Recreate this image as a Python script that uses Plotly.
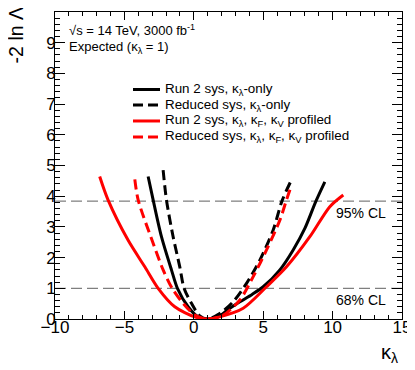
import plotly.graph_objects as go

# Run 2 sys, kappa_lambda-only (black solid)
run2_only_x = [-3.29, -2.93, -2.33, -1.61, -1.18, -0.41, 0.31, 1.0, 1.75, 2.5, 3.32, 4.2, 5.0, 6.2, 7.16, 8.0, 8.8, 9.44]
run2_only_y = [4.64, 3.88, 2.68, 1.6, 1.0, 0.40, 0.07, 0.0, 0.07, 0.32, 0.56, 0.8, 1.05, 1.6, 2.25, 2.95, 3.84, 4.47]

# Reduced sys, kappa_lambda-only (black dashed)
red_only_x = [-2.21, -1.97, -1.49, -1.01, -0.70, -0.17, 0.43, 1.0, 1.87, 2.83, 3.8, 4.76, 5.72, 6.35, 6.97]
red_only_y = [4.85, 3.88, 2.68, 1.70, 1.0, 0.51, 0.10, 0.0, 0.18, 0.56, 1.16, 1.92, 2.9, 3.84, 4.47]

# Run 2 sys, profiled (red solid)
run2_prof_x = [-6.78, -6.18, -4.74, -3.53, -2.57, -1.37, 0.07, 1.03, 1.87, 3.56, 5.24, 6.68, 8.36, 9.8, 10.77]
run2_prof_y = [4.64, 3.88, 2.57, 1.70, 1.0, 0.40, 0.07, 0.0, 0.07, 0.35, 1.05, 1.7, 2.68, 3.66, 4.04]

# Reduced sys, profiled (red dashed)
red_prof_x = [-4.25, -4.01, -2.93, -2.21, -1.56, -0.77, 0.07, 1.0, 2.1, 3.32, 4.28, 5.24, 6.2, 6.68, 7.04]
red_prof_y = [4.55, 3.88, 2.47, 1.6, 1.0, 0.51, 0.13, 0.0, 0.12, 0.62, 1.38, 2.25, 3.22, 3.88, 4.36]

cl_levels = [1.0, 3.84]
cl_labels = ["68% CL", "95% CL"]
x_range = [-10, 15]
y_range = [0, 10]
x_ticks = [-10, -5, 0, 5, 10, 15]
x_ticklabels = ["\u221210", "\u22125", "0", "5", "10", "15"]

FONT = "Liberation Sans, Arial, Helvetica, sans-serif"

fig = go.Figure()

# CL reference lines
for lvl in cl_levels:
    fig.add_trace(go.Scatter(x=x_range, y=[lvl, lvl], mode="lines",
                             line=dict(color="#606060", width=1, dash="11px,5px"),
                             showlegend=False, hoverinfo="skip"))

series = [
    (run2_only_x, run2_only_y, "black", "solid", "Run 2 sys, \u03ba<sub>\u03bb</sub>-only"),
    (red_only_x, red_only_y, "black", "10px,5px", "Reduced sys, \u03ba<sub>\u03bb</sub>-only"),
    (run2_prof_x, run2_prof_y, "#ff0000", "solid",
     "Run 2 sys, \u03ba<sub>\u03bb</sub>, \u03ba<sub>F</sub>, \u03ba<sub>V</sub> profiled"),
    (red_prof_x, red_prof_y, "#ff0000", "10px,5px",
     "Reduced sys, \u03ba<sub>\u03bb</sub>, \u03ba<sub>F</sub>, \u03ba<sub>V</sub> profiled"),
]
for xs, ys, col, dash, name in series:
    fig.add_trace(go.Scatter(x=xs, y=ys, mode="lines", name=name, showlegend=False,
                             line=dict(color=col, width=3, dash=dash, shape="spline", smoothing=0.8)))

# legend drawn as paper-referenced samples + labels
leg_x0, leg_x1, leg_tx = 0.2248, 0.3026, 0.31
leg_rows = [0.7476, 0.697, 0.645, 0.593]
for (xs, ys, col, dash, name), ly in zip(series, leg_rows):
    fig.add_shape(type="line", xref="paper", yref="paper", x0=leg_x0, x1=leg_x1, y0=ly, y1=ly,
                  line=dict(color=col, width=3, dash=dash))
    fig.add_annotation(x=leg_tx, y=ly, xref="paper", yref="paper", xanchor="left", yanchor="middle",
                       text=name, showarrow=False, font=dict(size=13.4, color="black", family=FONT))

for lvl, lab in zip(cl_levels, cl_labels):
    fig.add_annotation(x=0.96, y=lvl, xref="paper", yref="y", xanchor="right", yanchor="middle",
                       text=lab, showarrow=False, font=dict(size=14, color="black", family=FONT),
                       yshift=-11.5)

axis_common = dict(showline=True, linecolor="black", linewidth=1, mirror="ticks",
                   ticks="inside", tickcolor="black", showgrid=False, zeroline=False,
                   automargin=False, tickfont=dict(size=17, color="black", family=FONT))

fig.update_xaxes(range=x_range, tickvals=x_ticks, ticktext=x_ticklabels, ticklen=8,
                 ticklabelstandoff=-7,
                 minor=dict(ticks="inside", dtick=1, ticklen=4, tickcolor="black"),
                 **axis_common)
fig.update_yaxes(range=y_range, dtick=1, ticklen=10, ticklabelstandoff=-5,
                 minor=dict(ticks="inside", dtick=0.2, ticklen=5, tickcolor="black"),
                 **axis_common)

fig.add_annotation(x=-0.114, y=1.023, xref="paper", yref="paper", text="-2 ln \u039b", textangle=-90,
                   showarrow=False, xanchor="center", yanchor="top",
                   font=dict(size=19.5, color="black", family=FONT))
fig.add_annotation(x=0.994, y=-0.065, xref="paper", yref="paper", text="\u03ba<sub>\u03bb</sub>",
                   showarrow=False, xanchor="right", yanchor="top",
                   font=dict(size=20, color="black", family=FONT))
fig.add_annotation(x=0.035, y=0.975, xref="paper", yref="paper",
                   text="\u221as = 14 TeV, 3000 fb<sup>-1</sup>", showarrow=False,
                   xanchor="left", yanchor="top", font=dict(size=13, color="black", family=FONT))
fig.add_annotation(x=0.035, y=0.92, xref="paper", yref="paper",
                   text="Expected (\u03ba<sub>\u03bb</sub> = 1)", showarrow=False,
                   xanchor="left", yanchor="top", font=dict(size=13, color="black", family=FONT))

# the page body adds an 8px offset, so the figure is sized to fit the 415x370 window
fig.update_layout(
    width=407, height=362,
    margin=dict(l=47, r=13, t=4, b=51),
    paper_bgcolor="white", plot_bgcolor="white",
    font=dict(family=FONT, color="black"),
    showlegend=False,
)

fig.write_html("out.html")
